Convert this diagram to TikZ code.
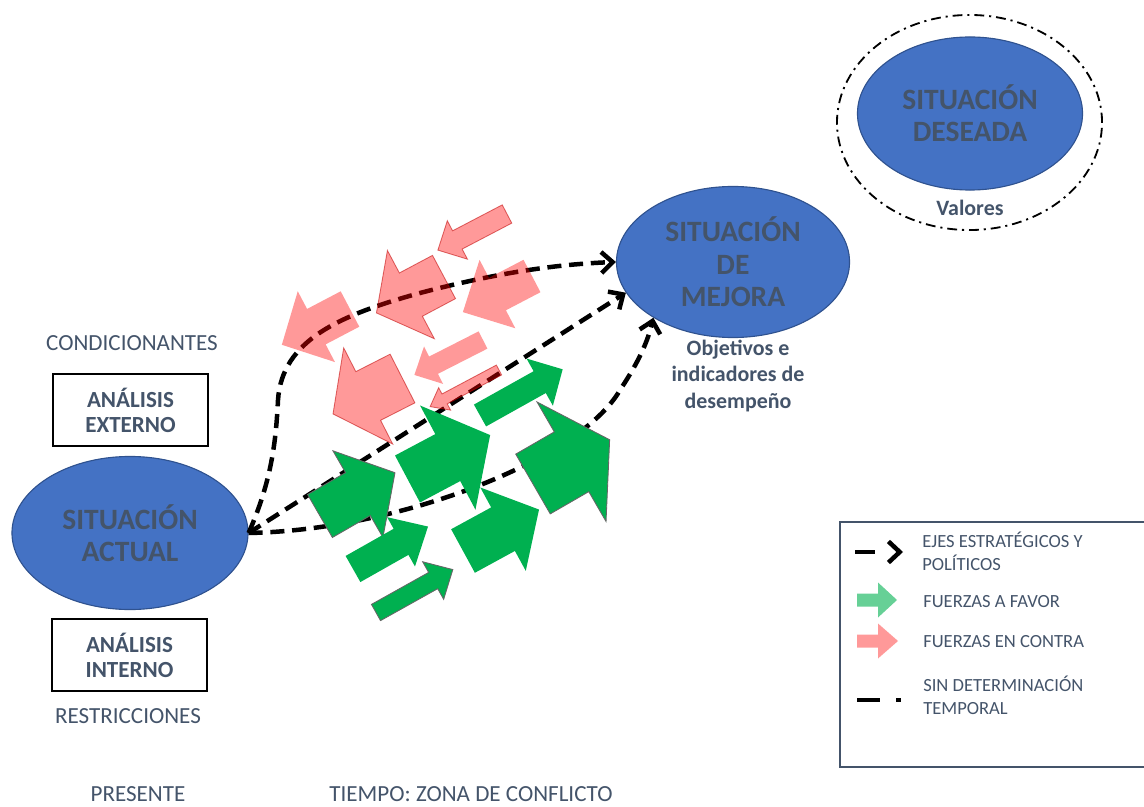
\documentclass[tikz,border=0pt]{standalone}
\usepackage{fontspec}
\setmainfont{Carlito}
\usetikzlibrary{arrows.meta,shapes.geometric}
\definecolor{azul}{HTML}{4472C4}
\definecolor{azulborde}{HTML}{2F528F}
\definecolor{gristexto}{HTML}{44546A}
\definecolor{verde}{HTML}{00B050}
\definecolor{rojo}{HTML}{FF0000}

\begin{document}
\begin{tikzpicture}[x=0.025cm,y=0.025cm,
  situacion/.style={ellipse,fill=azul,draw=azulborde,line width=0.8pt,inner sep=0pt,
    text=gristexto,font=\bfseries\fontsize{21}{23}\selectfont,align=center},
  analisis/.style={draw=black,line width=1.3pt,minimum width=3.875cm,minimum height=1.8cm,
    text=gristexto,font=\bfseries\fontsize{16.4}{17.8}\selectfont,align=center},
  etiqueta/.style={text=gristexto,font=\fontsize{16.4}{19}\selectfont,inner sep=1pt},
  nota/.style={text=gristexto,font=\bfseries\fontsize{15.6}{18.5}\selectfont,align=center},
  leyendatxt/.style={text=gristexto,font=\fontsize{13.2}{16.4}\selectfont,align=left,anchor=west,inner sep=0pt},
  eje/.style={line width=3.2pt,dash pattern=on 10pt off 5.5pt,-{Straight Barb[length=8pt,width=15pt]}},
  favor/.style={fill=verde},
  contra/.style={fill=rojo,fill opacity=0.4},
  sinborde/.style={},
  borde/.style={draw=black!60,line width=0.6pt},
  bordecontra/.style={draw=red!75!black,draw opacity=0.55,line width=0.6pt}]
\useasboundingbox (0,0) rectangle (1144,-807);

% situaciones
\node[situacion,minimum width=5.9cm,minimum height=3.825cm] (actual) at (130,-533) {SITUACIÓN\\ACTUAL};
\node[situacion,minimum width=5.825cm,minimum height=3.775cm] (mejora) at (733,-262) {SITUACIÓN\\DE\\MEJORA};
\node[situacion,minimum width=5.625cm,minimum height=3.825cm] (deseada) at (970,-113.5) {SITUACIÓN\\DESEADA};
\node[ellipse,draw,line width=1.3pt,dash pattern=on 7pt off 3.5pt on 1.5pt off 3.5pt,
  minimum width=6.625cm,minimum height=5.375cm] (anillo) at (969.5,-122.5) {};

% analisis
\node[etiqueta] (condicionantes) at (132,-343) {CONDICIONANTES};
\node[analisis] (externo) at (130.5,-410) {ANÁLISIS\\EXTERNO};
\node[analisis] (interno) at (129.5,-655) {ANÁLISIS\\INTERNO};
\node[etiqueta] (restricciones) at (128,-716) {RESTRICCIONES};
\node[etiqueta] (presente) at (138,-794) {PRESENTE};
\node[etiqueta] (tiempo) at (471,-794) {TIEMPO: ZONA DE CONFLICTO};
\node[nota] (objetivos) at (738,-376) {Objetivos e\\indicadores de\\desempeño};
\node[nota] (valores) at (970,-208) {Valores};

% ejes
\draw[eje] (actual.east) .. controls (272,-480) and (276,-440) .. (278,-400)
  .. controls (282,-340) and (340,-315) .. (420,-293)
  .. controls (500,-272) and (560,-264) .. (mejora.west);
\draw[eje] (actual.east) -- (mejora.196);
\draw[eje] (actual.east) .. controls (400,-530) and (580,-460) .. (620,-390)
  .. controls (640,-360) and (648,-340) .. (mejora.215);

% fuerzas en contra
\foreach \px/\py/\ang/\len/\sw/\hw/\hl/\estilo in {
  507/214/207.6/78/10.3/21.7/22/bordecontra,
  444/277/208/76.5/24.5/50/39/bordecontra,
  532/276/207.6/78/18.3/38.6/39/sinborde,
  350/309/207.7/77/20/40/39/sinborde,
  402.5/378.5/207/78/27.3/54/39.5/bordecontra,
  483/340/207/77/9.7/21/21.5/sinborde,
  499/370/208/78/5.6/12.7/16.4/bordecontra}{
  \begin{scope}[shift={(\px,-\py)},rotate=\ang]
    \path[contra,\estilo] (0,-\sw) -- ({\len-\hl},-\sw) -- ({\len-\hl},-\hw) -- (\len,0)
      -- ({\len-\hl},\hw) -- ({\len-\hl},\sw) -- (0,\sw) -- cycle;
  \end{scope}
}

% fuerzas a favor
\foreach \px/\py/\ang/\len/\sw/\hw/\hl/\estilo in {
  320/516/30/86.6/24.8/50/42.8/borde,
  407.5/479/28/93.6/26.6/59/48/sinborde,
  480/415.5/29.2/94.7/12.5/27/26.3/sinborde,
  533/484/30/88.5/34.5/69/44/borde,
  463/551/28.6/86.6/24.8/47.5/41/sinborde,
  353/569/29.5/86.2/15/28.3/31/sinborde,
  376/612.5/29.2/88/9.3/21.5/22.5/borde}{
  \begin{scope}[shift={(\px,-\py)},rotate=\ang]
    \path[favor,\estilo] (0,-\sw) -- ({\len-\hl},-\sw) -- ({\len-\hl},-\hw) -- (\len,0)
      -- ({\len-\hl},\hw) -- ({\len-\hl},\sw) -- (0,\sw) -- cycle;
  \end{scope}
}

% leyenda
\draw[draw=gristexto,line width=1pt] (840,-522) rectangle (1150,-767);
\draw[eje,dash pattern=on 14pt off 30pt] (855,-552) -- (903,-552);
\path[fill=verde,fill opacity=0.6] (857,-593.5) -- (878,-593.5) -- (878,-582.5) -- (897,-600)
  -- (878,-617.5) -- (878,-606.5) -- (857,-606.5) -- cycle;
\path[contra] (857,-634.5) -- (878,-634.5) -- (878,-623.5) -- (898,-641)
  -- (878,-658.5) -- (878,-647.5) -- (857,-647.5) -- cycle;
\draw[line width=3pt,dash pattern=on 16pt off 12pt on 3pt off 20pt] (857,-700) -- (901,-700);
\node[leyendatxt] (ejes) at (922,-551.5) {EJES ESTRATÉGICOS Y\\POLÍTICOS};
\node[leyendatxt] (afavor) at (923,-602) {FUERZAS A FAVOR};
\node[leyendatxt] (encontra) at (923,-642) {FUERZAS EN CONTRA};
\node[leyendatxt] (temporal) at (923,-695) {SIN DETERMINACIÓN\\TEMPORAL};
\end{tikzpicture}
\end{document}
